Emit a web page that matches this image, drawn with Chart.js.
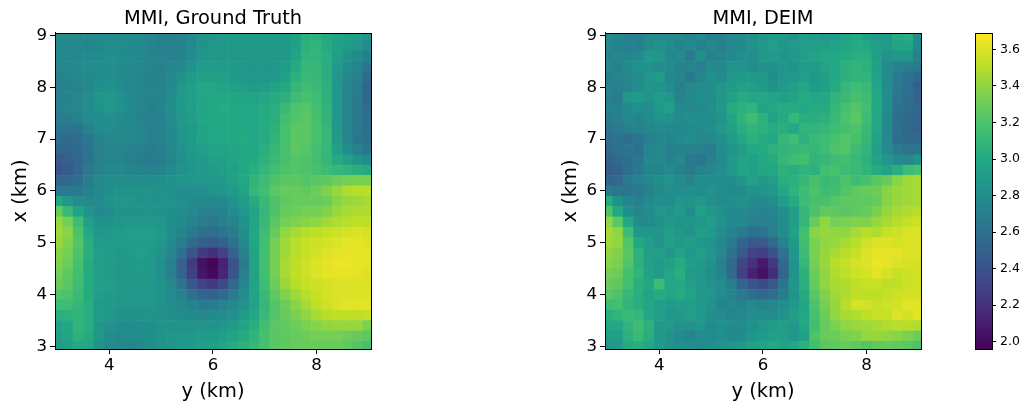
<!DOCTYPE html>
<html>
<head>
    <meta charset="UTF-8">
    <title>MMI</title>
    <script src="https://cdn.jsdelivr.net/npm/chart.js@4"></script>
    <style>
        body { margin: 0; background: #fff; }
        canvas { position: absolute; top: 0; }
    </style>
</head>
<body>
    <canvas id="truth" width="426" height="411" style="left:0"></canvas>
    <canvas id="deim" width="426" height="411" style="left:550px"></canvas>
    <canvas id="cbar" width="72" height="411" style="left:960px"></canvas>

    <script>
        // grid at 0.2 km, rows go from x=9 down to x=3, columns from y=3 to y=9
        const rowKm = [9.0, 8.8, 8.6, 8.4, 8.2, 8.0, 7.8, 7.6, 7.4, 7.2, 7.0, 6.8, 6.6, 6.4, 6.2, 6.0, 5.8, 5.6, 5.4, 5.2, 5.0, 4.8, 4.6, 4.4, 4.2, 4.0, 3.8, 3.6, 3.4, 3.2, 3.0];
        const colKm = [3.0, 3.2, 3.4, 3.6, 3.8, 4.0, 4.2, 4.4, 4.6, 4.8, 5.0, 5.2, 5.4, 5.6, 5.8, 6.0, 6.2, 6.4, 6.6, 6.8, 7.0, 7.2, 7.4, 7.6, 7.8, 8.0, 8.2, 8.4, 8.6, 8.8, 9.0];

        const truthRows = [
            [2.80,2.79,2.78,2.78,2.77,2.78,2.79,2.80,2.78,2.75,2.72,2.72,2.74,2.78,2.84,2.87,2.88,2.89,2.89,2.89,2.89,2.89,2.89,2.93,3.04,3.06,3.00,2.96,2.94,2.92,2.85],
            [2.78,2.76,2.76,2.74,2.76,2.80,2.80,2.78,2.76,2.74,2.71,2.71,2.73,2.78,2.84,2.87,2.88,2.88,2.88,2.88,2.88,2.88,2.88,2.93,3.06,3.08,3.02,2.94,2.90,2.86,2.78],
            [2.78,2.76,2.76,2.78,2.80,2.82,2.80,2.78,2.76,2.74,2.72,2.72,2.74,2.80,2.85,2.88,2.88,2.88,2.88,2.87,2.87,2.87,2.88,2.96,3.08,3.09,3.04,2.92,2.84,2.78,2.70],
            [2.76,2.76,2.78,2.80,2.82,2.82,2.80,2.78,2.76,2.74,2.72,2.74,2.78,2.84,2.90,2.90,2.90,2.90,2.88,2.86,2.86,2.87,2.90,3.02,3.10,3.10,3.04,2.90,2.80,2.74,2.64],
            [2.72,2.74,2.76,2.78,2.80,2.82,2.78,2.76,2.74,2.72,2.72,2.76,2.84,2.90,2.94,2.94,2.92,2.90,2.88,2.86,2.86,2.88,2.94,3.06,3.12,3.10,3.04,2.88,2.76,2.70,2.56],
            [2.70,2.72,2.74,2.76,2.82,2.84,2.80,2.76,2.74,2.72,2.72,2.78,2.88,2.94,2.98,2.98,2.96,2.94,2.92,2.90,2.92,2.96,3.00,3.10,3.14,3.12,3.06,2.86,2.74,2.68,2.52],
            [2.70,2.72,2.76,2.80,2.86,2.88,2.84,2.78,2.74,2.72,2.74,2.80,2.90,2.94,2.98,3.00,3.00,2.98,2.96,2.96,2.98,3.02,3.06,3.14,3.18,3.14,3.06,2.86,2.74,2.66,2.52],
            [2.72,2.74,2.76,2.80,2.84,2.86,2.84,2.78,2.74,2.70,2.74,2.82,2.90,2.94,2.98,3.00,3.02,3.00,3.00,3.00,3.02,3.04,3.12,3.20,3.22,3.16,3.08,2.88,2.74,2.66,2.56],
            [2.68,2.68,2.72,2.78,2.80,2.82,2.80,2.76,2.72,2.70,2.72,2.80,2.88,2.92,2.98,3.00,3.00,3.00,3.00,3.00,3.02,3.04,3.16,3.22,3.24,3.18,3.08,2.88,2.74,2.66,2.58],
            [2.64,2.62,2.64,2.72,2.78,2.80,2.78,2.76,2.74,2.70,2.72,2.78,2.86,2.90,2.96,3.00,3.00,3.00,3.00,3.00,3.02,3.06,3.18,3.24,3.24,3.18,3.10,2.88,2.74,2.66,2.60],
            [2.58,2.56,2.58,2.64,2.72,2.76,2.76,2.76,2.74,2.70,2.72,2.78,2.86,2.90,2.96,3.00,3.00,3.00,3.02,3.00,3.02,3.08,3.18,3.24,3.24,3.18,3.10,2.90,2.74,2.64,2.60],
            [2.52,2.52,2.56,2.62,2.70,2.74,2.74,2.72,2.70,2.68,2.70,2.76,2.84,2.88,2.92,2.96,2.96,2.98,3.00,3.00,3.04,3.10,3.18,3.24,3.22,3.16,3.10,2.94,2.80,2.70,2.64],
            [2.44,2.48,2.54,2.62,2.70,2.74,2.74,2.70,2.68,2.66,2.68,2.74,2.82,2.86,2.90,2.94,2.94,2.96,3.00,3.02,3.06,3.12,3.18,3.22,3.20,3.16,3.10,3.02,2.94,2.84,2.78],
            [2.40,2.46,2.54,2.66,2.72,2.76,2.76,2.74,2.74,2.74,2.74,2.78,2.84,2.86,2.88,2.90,2.92,2.94,3.00,3.04,3.10,3.16,3.20,3.22,3.20,3.18,3.14,3.10,3.08,3.04,3.02],
            [2.52,2.54,2.60,2.68,2.76,2.80,2.80,2.80,2.80,2.80,2.82,2.84,2.86,2.86,2.86,2.88,2.90,2.94,3.00,3.08,3.14,3.20,3.24,3.24,3.22,3.24,3.26,3.30,3.32,3.34,3.34],
            [2.66,2.66,2.66,2.72,2.78,2.82,2.84,2.84,2.84,2.84,2.84,2.84,2.82,2.82,2.82,2.84,2.86,2.90,2.96,3.10,3.16,3.24,3.28,3.28,3.26,3.30,3.36,3.42,3.48,3.50,3.50],
            [3.00,2.88,2.80,2.76,2.80,2.84,2.86,2.86,2.84,2.84,2.84,2.84,2.82,2.78,2.76,2.76,2.78,2.84,2.92,3.02,3.12,3.20,3.26,3.28,3.28,3.28,3.30,3.38,3.42,3.44,3.46],
            [3.28,3.12,2.96,2.84,2.78,2.80,2.84,2.84,2.84,2.84,2.84,2.82,2.80,2.76,2.72,2.70,2.72,2.78,2.86,2.96,3.10,3.20,3.28,3.30,3.32,3.32,3.36,3.42,3.46,3.48,3.48],
            [3.42,3.32,3.14,2.94,2.84,2.84,2.86,2.88,2.88,2.88,2.86,2.82,2.78,2.72,2.68,2.66,2.70,2.74,2.84,2.98,3.12,3.24,3.32,3.36,3.38,3.40,3.44,3.48,3.50,3.52,3.52],
            [3.44,3.38,3.20,3.00,2.88,2.88,2.90,2.92,2.92,2.92,2.88,2.82,2.74,2.66,2.60,2.58,2.62,2.68,2.82,2.98,3.14,3.28,3.40,3.46,3.50,3.52,3.54,3.56,3.58,3.60,3.58],
            [3.42,3.36,3.22,3.04,2.90,2.90,2.90,2.90,2.90,2.90,2.86,2.78,2.68,2.56,2.48,2.44,2.50,2.62,2.78,2.98,3.16,3.32,3.44,3.50,3.54,3.56,3.58,3.60,3.62,3.62,3.60],
            [3.38,3.32,3.20,3.04,2.92,2.90,2.88,2.90,2.92,2.90,2.84,2.74,2.60,2.42,2.26,2.20,2.30,2.50,2.72,2.96,3.16,3.32,3.44,3.50,3.54,3.58,3.60,3.62,3.63,3.63,3.62],
            [3.36,3.30,3.18,3.02,2.92,2.90,2.88,2.88,2.90,2.88,2.82,2.70,2.50,2.26,2.04,1.98,2.12,2.40,2.68,2.96,3.16,3.32,3.46,3.52,3.56,3.60,3.62,3.64,3.64,3.63,3.62],
            [3.32,3.26,3.16,3.02,2.92,2.90,2.88,2.88,2.90,2.88,2.82,2.70,2.52,2.28,2.06,2.00,2.14,2.42,2.70,2.96,3.16,3.32,3.46,3.52,3.56,3.60,3.62,3.63,3.63,3.62,3.60],
            [3.30,3.24,3.14,3.02,2.94,2.92,2.88,2.88,2.88,2.88,2.84,2.76,2.62,2.44,2.30,2.24,2.34,2.54,2.74,2.96,3.14,3.30,3.42,3.50,3.54,3.56,3.58,3.60,3.60,3.60,3.60],
            [3.22,3.20,3.12,3.02,2.92,2.90,2.88,2.88,2.88,2.86,2.84,2.78,2.70,2.60,2.52,2.50,2.56,2.66,2.80,2.96,3.12,3.26,3.36,3.44,3.50,3.54,3.58,3.60,3.60,3.60,3.60],
            [3.14,3.14,3.10,3.04,2.90,2.88,2.86,2.86,2.86,2.86,2.84,2.80,2.76,2.72,2.68,2.68,2.72,2.76,2.84,2.96,3.10,3.22,3.30,3.38,3.46,3.52,3.56,3.60,3.62,3.62,3.62],
            [3.04,3.06,3.08,3.04,2.90,2.86,2.84,2.84,2.84,2.84,2.84,2.82,2.80,2.78,2.76,2.78,2.80,2.82,2.90,3.00,3.12,3.22,3.28,3.34,3.40,3.46,3.50,3.52,3.52,3.52,3.54],
            [2.96,3.00,3.08,3.04,2.88,2.84,2.82,2.80,2.82,2.82,2.84,2.84,2.84,2.84,2.84,2.84,2.86,2.90,2.96,3.04,3.16,3.24,3.26,3.30,3.34,3.38,3.40,3.42,3.42,3.42,3.34],
            [2.92,2.98,3.06,3.02,2.86,2.80,2.78,2.78,2.80,2.82,2.84,2.86,2.88,2.88,2.90,2.90,2.92,2.96,3.02,3.08,3.18,3.24,3.26,3.28,3.30,3.32,3.32,3.32,3.30,3.28,3.26],
            [2.90,2.94,3.00,2.98,2.84,2.78,2.76,2.74,2.76,2.80,2.84,2.86,2.88,2.90,2.92,2.94,2.98,3.02,3.06,3.10,3.18,3.24,3.26,3.28,3.28,3.28,3.28,3.28,3.26,3.22,3.18]
        ];

        const deimRows = [
            [2.80,2.76,2.72,2.70,2.78,2.80,2.78,2.76,2.74,2.78,2.70,2.72,2.78,2.80,2.82,2.86,2.90,2.88,2.84,2.92,2.90,2.86,2.90,2.96,3.00,2.94,2.88,2.90,3.02,3.04,2.80],
            [2.76,2.72,2.70,2.70,2.80,2.84,2.80,2.74,2.78,2.72,2.76,2.70,2.76,2.78,2.84,2.88,2.92,2.86,2.90,2.92,2.92,2.94,2.96,2.98,3.02,3.00,2.92,2.90,2.96,2.96,2.76],
            [2.72,2.76,2.74,2.78,2.88,2.86,2.76,2.78,2.66,2.82,2.72,2.74,2.78,2.82,2.82,2.88,2.88,2.84,2.88,2.94,2.96,2.98,3.00,3.02,3.04,3.04,2.92,2.84,2.88,2.88,2.72],
            [2.76,2.72,2.78,2.84,2.84,2.80,2.78,2.72,2.74,2.70,2.78,2.76,2.84,2.84,2.80,2.84,2.84,2.86,2.84,2.90,2.90,2.96,3.00,3.06,3.08,3.06,2.94,2.78,2.72,2.70,2.66],
            [2.70,2.74,2.76,2.78,2.86,2.90,2.76,2.74,2.66,2.74,2.82,2.78,2.88,2.90,2.88,2.88,2.82,2.86,2.88,2.92,2.88,2.92,3.00,3.06,3.08,3.08,2.96,2.80,2.66,2.62,2.54],
            [2.72,2.70,2.74,2.80,2.86,2.84,2.80,2.70,2.76,2.80,2.80,2.86,2.90,2.94,2.94,2.90,2.84,2.88,2.94,2.98,2.90,2.94,3.02,3.10,3.14,3.12,2.98,2.80,2.66,2.58,2.48],
            [2.70,2.68,2.86,2.90,2.84,2.90,2.86,2.72,2.78,2.82,2.80,2.86,2.94,3.02,2.98,3.00,2.96,2.94,2.96,3.02,2.98,3.00,3.08,3.12,3.18,3.14,3.00,2.80,2.64,2.58,2.50],
            [2.72,2.72,2.78,2.82,2.80,2.88,2.94,2.78,2.76,2.78,2.82,2.88,3.02,3.06,3.08,2.96,3.00,3.02,3.02,3.00,3.02,3.02,3.10,3.18,3.22,3.16,3.00,2.80,2.62,2.58,2.54],
            [2.68,2.70,2.76,2.74,2.78,2.84,2.84,2.78,2.82,2.80,2.80,2.84,2.96,3.08,3.14,3.06,2.96,3.02,3.10,3.04,3.04,3.06,3.12,3.20,3.24,3.14,3.00,2.78,2.60,2.56,2.52],
            [2.62,2.66,2.70,2.72,2.76,2.78,2.76,2.76,2.78,2.78,2.82,2.88,2.94,3.04,3.08,3.06,3.02,3.04,3.00,3.08,3.08,3.10,3.14,3.18,3.20,3.12,2.98,2.76,2.58,2.54,2.50],
            [2.58,2.62,2.60,2.64,2.70,2.74,2.74,2.78,2.82,2.76,2.76,2.82,2.90,3.00,3.06,3.02,3.00,3.10,3.14,3.06,3.12,3.14,3.18,3.22,3.18,3.10,2.96,2.78,2.60,2.56,2.56],
            [2.54,2.60,2.64,2.60,2.74,2.76,2.70,2.72,2.72,2.70,2.68,2.80,2.84,2.92,3.00,3.02,3.06,3.08,3.10,3.12,3.10,3.14,3.20,3.22,3.14,3.08,2.94,2.78,2.66,2.62,2.62],
            [2.50,2.56,2.60,2.64,2.76,2.76,2.72,2.76,2.66,2.64,2.70,2.78,2.88,2.96,2.94,3.00,3.02,3.10,3.14,3.16,3.08,3.10,3.14,3.16,3.12,3.06,2.96,2.86,2.78,2.76,2.84],
            [2.46,2.50,2.60,2.66,2.74,2.74,2.78,2.72,2.68,2.74,2.76,2.80,2.86,2.96,2.94,2.98,3.00,3.06,3.04,3.08,3.06,3.16,3.18,3.14,3.12,3.08,3.02,2.96,3.04,3.14,3.18],
            [2.52,2.56,2.66,2.70,2.76,2.82,2.84,2.78,2.72,2.82,2.78,2.80,2.82,2.86,2.94,2.88,2.92,3.04,3.06,3.10,3.18,3.12,3.14,3.20,3.14,3.18,3.24,3.28,3.38,3.44,3.46],
            [2.68,2.64,2.64,2.66,2.72,2.76,2.82,2.80,2.82,2.80,2.84,2.80,2.78,2.80,2.84,2.86,2.88,3.00,3.08,3.14,3.20,3.14,3.16,3.22,3.26,3.28,3.30,3.38,3.42,3.44,3.46],
            [3.02,2.84,2.74,2.70,2.78,2.82,2.80,2.86,2.84,2.88,2.82,2.80,2.82,2.84,2.78,2.78,2.82,2.92,3.02,3.14,3.18,3.18,3.22,3.26,3.26,3.26,3.28,3.38,3.42,3.44,3.46],
            [3.20,3.00,2.82,2.74,2.80,2.86,2.84,2.90,2.80,2.94,2.86,2.82,2.78,2.78,2.74,2.72,2.74,2.82,2.94,3.10,3.20,3.26,3.26,3.24,3.26,3.28,3.34,3.42,3.46,3.48,3.50],
            [3.40,3.24,3.00,2.80,2.78,2.82,2.88,2.84,2.86,2.88,2.92,2.84,2.78,2.76,2.70,2.70,2.72,2.80,2.92,3.10,3.28,3.40,3.32,3.34,3.36,3.36,3.42,3.46,3.50,3.54,3.56],
            [3.46,3.40,3.14,2.88,2.86,2.86,2.92,2.88,2.84,2.92,2.90,2.80,2.74,2.66,2.60,2.62,2.70,2.80,2.94,3.16,3.38,3.42,3.40,3.40,3.46,3.50,3.48,3.54,3.56,3.60,3.60],
            [3.44,3.40,3.22,3.00,2.92,2.84,2.94,2.90,2.92,2.86,2.84,2.76,2.68,2.52,2.44,2.44,2.56,2.72,2.90,3.16,3.34,3.40,3.42,3.46,3.50,3.56,3.60,3.60,3.58,3.60,3.60],
            [3.40,3.36,3.24,3.06,2.92,2.94,2.88,2.96,2.88,2.92,2.86,2.76,2.62,2.44,2.30,2.28,2.40,2.62,2.86,3.14,3.34,3.42,3.46,3.50,3.54,3.60,3.62,3.62,3.62,3.60,3.60],
            [3.38,3.34,3.22,3.06,2.94,2.90,2.94,3.02,2.92,2.88,2.84,2.72,2.54,2.32,2.20,2.08,2.24,2.54,2.84,3.10,3.32,3.42,3.50,3.54,3.58,3.60,3.64,3.63,3.60,3.58,3.58],
            [3.32,3.30,3.18,3.08,2.96,2.90,2.98,3.04,2.90,2.86,2.82,2.74,2.56,2.28,2.12,2.04,2.18,2.52,2.84,3.06,3.30,3.40,3.48,3.52,3.56,3.58,3.62,3.58,3.54,3.56,3.58],
            [3.28,3.26,3.16,3.04,3.00,3.14,2.98,3.00,2.92,2.88,2.84,2.78,2.68,2.52,2.40,2.36,2.44,2.64,2.86,3.04,3.28,3.40,3.46,3.48,3.52,3.54,3.54,3.52,3.52,3.56,3.58],
            [3.24,3.20,3.10,3.04,2.96,3.02,2.98,3.02,2.96,2.88,2.86,2.80,2.74,2.66,2.58,2.54,2.58,2.68,2.84,3.02,3.24,3.36,3.44,3.48,3.52,3.52,3.52,3.54,3.56,3.58,3.58],
            [3.14,3.16,3.08,3.04,2.98,2.92,2.90,2.92,2.92,2.90,2.84,2.74,2.76,2.72,2.76,2.74,2.76,2.80,2.88,2.98,3.20,3.32,3.42,3.50,3.58,3.58,3.54,3.56,3.58,3.62,3.62],
            [3.04,3.08,3.12,3.10,2.98,2.94,2.86,2.88,2.92,2.88,2.82,2.80,2.74,2.76,2.80,2.80,2.80,2.84,2.92,3.00,3.18,3.30,3.40,3.46,3.48,3.52,3.54,3.54,3.60,3.58,3.62],
            [2.98,3.00,3.08,3.14,3.06,2.90,2.88,2.84,2.84,2.86,2.78,2.82,2.80,2.78,2.82,2.86,2.90,2.92,2.88,2.98,3.16,3.28,3.34,3.40,3.42,3.44,3.46,3.48,3.50,3.50,3.48],
            [2.92,2.94,3.06,3.12,3.04,2.88,2.84,2.78,2.74,2.80,2.78,2.82,2.76,2.80,2.86,2.90,2.94,2.94,2.88,2.94,3.20,3.28,3.30,3.34,3.36,3.42,3.42,3.40,3.38,3.34,3.30],
            [2.86,2.90,3.02,3.04,3.00,2.90,2.84,2.82,2.80,2.78,2.82,2.84,2.86,2.90,2.94,2.96,3.00,2.96,3.00,3.06,3.16,3.24,3.26,3.28,3.26,3.22,3.26,3.28,3.26,3.24,3.20]
        ];

        const xTicks = [4, 6, 8];
        const yTicks = [3, 4, 5, 6, 7, 8, 9];
        const cbarTicks = [2.0, 2.2, 2.4, 2.6, 2.8, 3.0, 3.2, 3.4, 3.6];
        const vmin = 1.96;
        const vmax = 3.69;

        const viridis = [[68,1,84],[72,36,117],[65,68,135],[53,95,141],[42,120,142],[33,145,140],[34,168,132],[68,191,112],[122,209,81],[189,223,38],[253,231,37]];
        const fontName = "'DejaVu Sans'";

        function colorOf(v) {
            let t = (v - vmin) / (vmax - vmin) * 10;
            t = Math.max(0, Math.min(9.999, t));
            let i = Math.floor(t);
            let f = t - i;
            let a = viridis[i], b = viridis[i + 1];
            return "rgb(" + [0, 1, 2].map(k => Math.round(a[k] + (b[k] - a[k]) * f)).join(",") + ")";
        }

        // top and right spines, the library only draws the ones next to an axis
        const frame = {
            id: "frame",
            afterDraw(chart) {
                let a = chart.chartArea, c = chart.ctx;
                c.save();
                c.strokeStyle = "#000";
                c.lineWidth = 1;
                c.strokeRect(Math.round(a.left) + 0.5, Math.round(a.top) + 0.5, a.right - a.left, a.bottom - a.top);
                c.restore();
            }
        };

        function heatmap(id, name, rows) {
            let pts = [], cols = [];
            rows.forEach((row, i) => row.forEach((v, j) => {
                pts.push({ x: colKm[j], y: rowKm[i] });
                cols.push(colorOf(v));
            }));
            return new Chart(document.getElementById(id), {
                type: "scatter",
                plugins: [frame],
                data: {
                    datasets: [{
                        data: pts,
                        pointStyle: "rect",
                        pointBackgroundColor: cols,
                        pointBorderWidth: 0,
                        // rect draws its side as radius * sqrt(2)
                        pointRadius: ctx => {
                            let s = ctx.chart.scales.x;
                            return (Math.abs(s.getPixelForValue(colKm[1]) - s.getPixelForValue(colKm[0])) + 0.6) / Math.SQRT2;
                        }
                    }]
                },
                options: {
                    responsive: false,
                    animation: false,
                    events: [],
                    plugins: {
                        legend: { display: false },
                        tooltip: { enabled: false },
                        title: {
                            display: true,
                            text: name,
                            color: "#000",
                            font: { family: fontName, size: 19.4, weight: "normal" },
                            padding: { top: 7, bottom: 2.7 }
                        }
                    },
                    scales: {
                        x: {
                            type: "linear", min: 2.95, max: 9.05,
                            afterBuildTicks: s => { s.ticks = xTicks.map(v => ({ value: v })); },
                            afterFit: s => { s.height = 62; },
                            grid: { drawOnChartArea: false, tickLength: 5, tickColor: "#000" },
                            border: { color: "#000" },
                            ticks: { color: "#000", font: { family: fontName, size: 16.6 }, maxRotation: 0, autoSkip: false, padding: 2, callback: v => String(v) },
                            title: { display: true, text: "y (km)", color: "#000", font: { family: fontName, size: 19.4 }, padding: { top: 4, bottom: 7 } }
                        },
                        y: {
                            type: "linear", min: 2.95, max: 9.05,
                            afterBuildTicks: s => { s.ticks = yTicks.map(v => ({ value: v })); },
                            afterFit: s => { s.width = 55; },
                            grid: { drawOnChartArea: false, tickLength: 5, tickColor: "#000" },
                            border: { color: "#000" },
                            ticks: { color: "#000", font: { family: fontName, size: 16.6 }, autoSkip: false, padding: 3, callback: v => String(v) },
                            title: { display: true, text: "x (km)", color: "#000", font: { family: fontName, size: 19.4 }, padding: { top: 9, bottom: 2 } }
                        },
                        // empty axis so the title is centred over the plot and not over the whole canvas
                        spacer: {
                            type: "linear", axis: "y", position: "right", display: true,
                            afterFit: s => { s.width = 55; },
                            grid: { display: false },
                            border: { display: false },
                            ticks: { display: false }
                        }
                    }
                }
            });
        }

        heatmap("truth", "MMI, Ground Truth", truthRows);
        heatmap("deim", "MMI, DEIM", deimRows);

        new Chart(document.getElementById("cbar"), {
            type: "bar",
            plugins: [frame],
            data: {
                labels: ["MMI"],
                datasets: [{
                    data: [[vmin, vmax]],
                    barPercentage: 1,
                    categoryPercentage: 1,
                    backgroundColor: ctx => {
                        let a = ctx.chart.chartArea;
                        if (!a) return "#000";
                        let g = ctx.chart.ctx.createLinearGradient(0, a.bottom, 0, a.top);
                        viridis.forEach((c, i) => g.addColorStop(i / 10, "rgb(" + c.join(",") + ")"));
                        return g;
                    }
                }]
            },
            options: {
                responsive: false,
                animation: false,
                events: [],
                layout: { padding: { left: 15, top: 33, bottom: 62 } },
                plugins: { legend: { display: false }, tooltip: { enabled: false } },
                scales: {
                    x: { display: false },
                    y: {
                        position: "right",
                        min: vmin, max: vmax,
                        afterBuildTicks: s => { s.ticks = cbarTicks.map(v => ({ value: v })); },
                        afterFit: s => { s.width = 40; },
                        grid: { drawOnChartArea: false, tickLength: 4, tickColor: "#000" },
                        border: { color: "#000" },
                        ticks: { color: "#000", font: { family: fontName, size: 12.5 }, autoSkip: false, padding: 4, callback: v => v.toFixed(1) }
                    }
                }
            }
        });
    </script>
</body>
</html>
